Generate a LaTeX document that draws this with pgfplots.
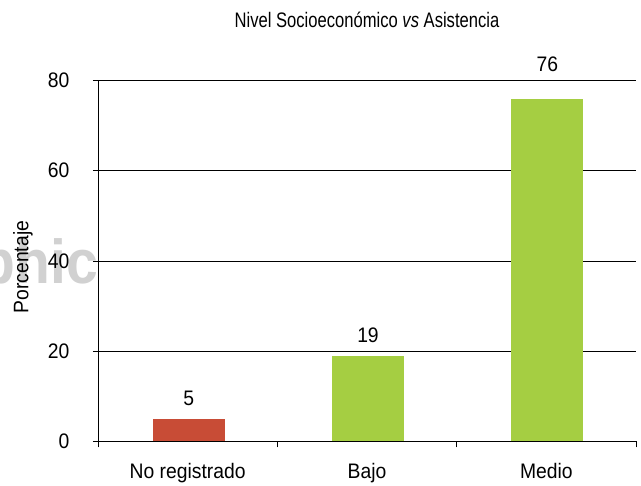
\documentclass[border=0pt]{standalone}
\usepackage{pgfplots}
\pgfplotsset{compat=1.18}
\usepackage{fontspec}
\setmainfont{Liberation Sans}[FakeStretch=0.92]
\newfontfamily\titlefont{Liberation Sans}[FakeStretch=0.79]
\definecolor{barred}{HTML}{C84C36}
\definecolor{bargreen}{HTML}{A5CE42}
\newcommand{\lbl}{\fontsize{21}{25}\selectfont}
\begin{document}
\begin{tikzpicture}
\node[anchor=base east, text=black!18, font=\fontsize{62}{62}\selectfont\bfseries, inner sep=0pt] at (0pt,158pt) {phic};
\begin{axis}[
  at={(0,0)}, anchor=south west,
  scale only axis, width=538pt, height=361pt,
  xmin=-0.5, xmax=2.5, ymin=0, ymax=80,
  axis x line*=bottom, axis y line*=left,
  axis line style={black, line width=0.9pt},
  ytick={0,20,40,60,80},
  ymajorgrids, grid style={black, line width=0.8pt},
  xtick={0,1,2},
  xticklabels={No registrado, Bajo, Medio},
  major x tick style={draw=none},
  minor xtick={-0.5,0.5,1.5,2.5},
  tick align=outside,
  major tick length=5pt, minor tick length=6pt,
  tick style={black, line width=0.8pt},
  /pgf/number format/assume math mode=true,
  ticklabel style={font=\lbl},
  xticklabel style={anchor=base, yshift=-32pt},
  yticklabel style={anchor=east, xshift=-20pt},
  ylabel={Porcentaje},
  ylabel style={font=\lbl, at={(axis description cs:-0.1296,0.483)}, anchor=base},
  title={Nivel Socioeconómico \textit{vs} Asistencia},
  title style={font=\titlefont\fontsize{21}{25}\selectfont, at={(0.5,1)}, anchor=base, yshift=47.3pt},
  ybar, bar width=72pt, bar shift=1pt,
  nodes near coords,
  every node near coord/.append style={font=\lbl, anchor=base, text=black},
]
\addplot[fill=barred, draw=none, every node near coord/.append style={yshift=13pt}] coordinates {(0,5)};
\addplot[fill=bargreen, draw=none, every node near coord/.append style={yshift=13pt}] coordinates {(1,19)};
\addplot[fill=bargreen, draw=none, every node near coord/.append style={yshift=27.5pt}] coordinates {(2,76)};
\end{axis}
\pgfresetboundingbox
\path[use as bounding box] (-98pt,-44.5pt) rectangle (543pt,441.5pt);
\end{tikzpicture}
\end{document}
